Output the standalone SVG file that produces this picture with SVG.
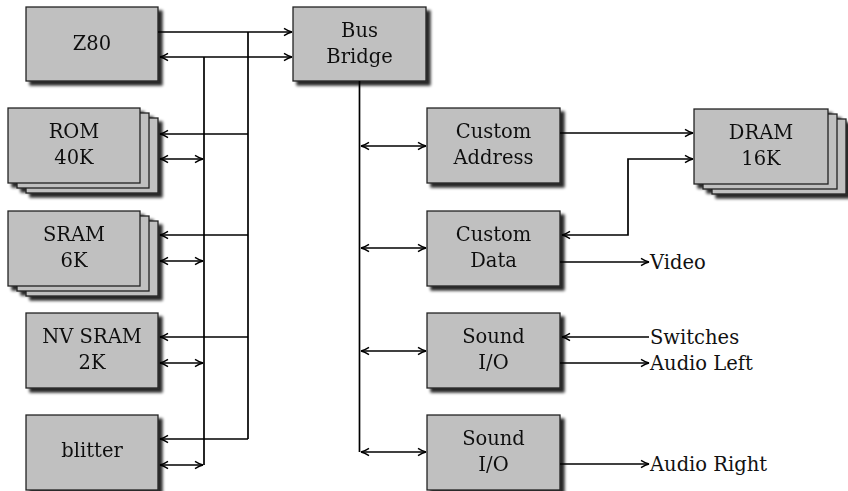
<svg xmlns="http://www.w3.org/2000/svg" width="848" height="491" viewBox="0 0 848 491">
<style>
.box{fill:#c0c0c0;stroke:#222;stroke-width:1.3}
.t{font-family:"DejaVu Serif","Liberation Serif",serif;font-size:19.5px;fill:#111;text-anchor:middle}
.lbl{font-family:"DejaVu Serif","Liberation Serif",serif;font-size:19.5px;fill:#111;text-anchor:start}
.w{fill:none;stroke:#000;stroke-width:1.7}
.a{marker-end:url(#ah)}
.d{marker-start:url(#ahs);marker-end:url(#ah)}
</style>
<defs>
<filter id="sh" x="-10%" y="-10%" width="130%" height="130%">
<feGaussianBlur in="SourceAlpha" stdDeviation="1.8"/>
<feOffset dx="4" dy="4" result="b"/>
<feComponentTransfer><feFuncA type="linear" slope="0.85"/></feComponentTransfer>
<feMerge><feMergeNode/><feMergeNode in="SourceGraphic"/></feMerge>
</filter>
<marker id="ah" viewBox="-9 -5 10 10" refX="0" refY="0" markerWidth="10" markerHeight="10" markerUnits="userSpaceOnUse" orient="auto">
<path d="M-8,-3.6 Q-3.5,-0.7 0,0 Q-3.5,0.7 -8,3.6" fill="none" stroke="#000" stroke-width="1.4"/>
</marker>
<marker id="ahs" viewBox="-9 -5 10 10" refX="0" refY="0" markerWidth="10" markerHeight="10" markerUnits="userSpaceOnUse" orient="auto-start-reverse">
<path d="M-8,-3.6 Q-3.5,-0.7 0,0 Q-3.5,0.7 -8,3.6" fill="none" stroke="#000" stroke-width="1.4"/>
</marker>
</defs>

<g id="z80" filter="url(#sh)"><rect class="box" x="26" y="7" width="132" height="74"/><text class="t" x="92" y="50">Z80</text></g>
<g id="busbridge" filter="url(#sh)"><rect class="box" x="293" y="7" width="133" height="74"/><text class="t" x="359.5" y="37">Bus</text><text class="t" x="359.5" y="63">Bridge</text></g>

<g id="rom" filter="url(#sh)">
<rect class="box" x="26" y="118" width="132" height="75"/>
<rect class="box" x="17" y="113" width="132" height="75"/>
<rect class="box" x="8" y="108" width="132" height="75"/>
<text class="t" x="74" y="138">ROM</text><text class="t" x="74" y="164">40K</text></g>

<g id="sram" filter="url(#sh)">
<rect class="box" x="26" y="221" width="132" height="75"/>
<rect class="box" x="17" y="216" width="132" height="75"/>
<rect class="box" x="8" y="211" width="132" height="75"/>
<text class="t" x="74" y="241">SRAM</text><text class="t" x="74" y="267">6K</text></g>

<g id="nvsram" filter="url(#sh)"><rect class="box" x="26" y="313" width="132" height="75"/><text class="t" x="92" y="343">NV SRAM</text><text class="t" x="92" y="369">2K</text></g>

<g id="blitter" filter="url(#sh)"><rect class="box" x="26" y="415" width="132" height="75"/><text class="t" x="92" y="457">blitter</text></g>

<g id="customaddress" filter="url(#sh)"><rect class="box" x="427" y="108" width="133" height="75"/><text class="t" x="493.5" y="138">Custom</text><text class="t" x="493.5" y="164">Address</text></g>

<g id="customdata" filter="url(#sh)"><rect class="box" x="427" y="211" width="133" height="75"/><text class="t" x="493.5" y="241">Custom</text><text class="t" x="493.5" y="267">Data</text></g>

<g id="sound1" filter="url(#sh)"><rect class="box" x="427" y="313" width="133" height="75"/><text class="t" x="493.5" y="343">Sound</text><text class="t" x="493.5" y="369">I/O</text></g>

<g id="sound2" filter="url(#sh)"><rect class="box" x="427" y="415" width="133" height="75"/><text class="t" x="493.5" y="445">Sound</text><text class="t" x="493.5" y="471">I/O</text></g>

<g id="dram" filter="url(#sh)">
<rect class="box" x="712" y="119" width="134" height="75"/>
<rect class="box" x="703" y="114" width="134" height="75"/>
<rect class="box" x="694" y="109" width="134" height="75"/>
<text class="t" x="761" y="139">DRAM</text><text class="t" x="761" y="165">16K</text></g>

<g id="connectors">
<path class="w a" d="M158,32 H292"/>
<path class="w d" d="M160,57 H292"/>
<path class="w" d="M248,32 V439"/>
<path class="w" d="M204,57 V465"/>
<path class="w a" d="M248,134 H160"/>
<path class="w d" d="M160,159 H203"/>
<path class="w a" d="M248,235 H160"/>
<path class="w d" d="M160,261 H203"/>
<path class="w a" d="M248,337 H160"/>
<path class="w d" d="M160,363 H203"/>
<path class="w a" d="M248,439 H160"/>
<path class="w d" d="M160,465 H203"/>

<path class="w" d="M359.5,81 V452"/>
<path class="w d" d="M361,146 H426"/>
<path class="w d" d="M361,248 H426"/>
<path class="w d" d="M361,351 H426"/>
<path class="w d" d="M361,452 H426"/>

<path class="w a" d="M560,133 H693"/>
<path class="w d" d="M562,235 H628 V159 H693"/>
<path class="w a" d="M560,262 H649"/>
<path class="w a" d="M649,337 H562"/>
<path class="w a" d="M560,363 H649"/>
<path class="w a" d="M560,464 H649"/>
</g>
<text class="lbl" x="650" y="269">Video</text>
<text class="lbl" x="650" y="344">Switches</text>
<text class="lbl" x="650" y="370">Audio Left</text>
<text class="lbl" x="650" y="471">Audio Right</text>
</svg>
